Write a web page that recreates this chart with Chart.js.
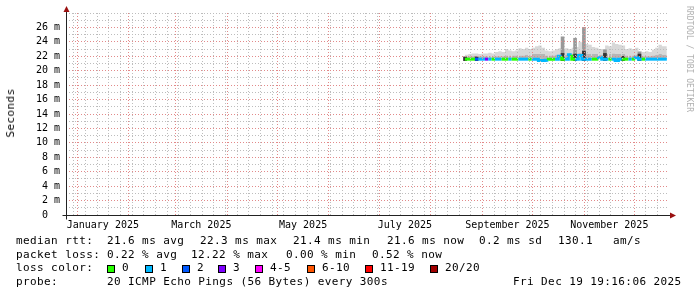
<!DOCTYPE html>
<html>
<head>
<meta charset="utf-8">
<script src="https://cdn.jsdelivr.net/npm/chart.js@4.4.1/dist/chart.umd.min.js"></script>
<style>
  html, body { margin: 0; padding: 0; background: #fff; }
  #wrap { position: relative; width: 697px; height: 297px; overflow: hidden; }
  #wrap canvas { position: absolute; left: 0; top: 0; }
  .t { position: absolute; font-family: "DejaVu Sans Mono", monospace; font-size: 11px;
       letter-spacing: 0.4px; color: #000; white-space: pre; line-height: 12px; }
  .box { position: absolute; top: 265px; width: 6px; height: 6px; border: 1px solid #000; }
</style>
</head>
<body>
<div id="wrap">
  <canvas id="chart" width="697" height="297"></canvas>

  <div class="t" style="left:11px;top:113px;transform:translate(-50%,-50%) rotate(-90deg);">Seconds</div>
  <div class="t" style="left:689px;top:59px;font-size:8px;letter-spacing:0;color:#b0b0b0;transform:translate(-50%,-50%) rotate(90deg);">RRDTOOL / TOBI OETIKER</div>

  <!-- legend rows -->
  <div class="t" style="left:16px;top:235px;">median rtt:</div>
  <div class="t" style="left:107px;top:235px;">21.6 ms avg</div>
  <div class="t" style="left:200px;top:235px;">22.3 ms max</div>
  <div class="t" style="left:293px;top:235px;">21.4 ms min</div>
  <div class="t" style="left:387px;top:235px;">21.6 ms now</div>
  <div class="t" style="left:479px;top:235px;">0.2 ms sd</div>
  <div class="t" style="left:558px;top:235px;">130.1</div>
  <div class="t" style="left:613px;top:235px;">am/s</div>

  <div class="t" style="left:16px;top:249px;">packet loss:</div>
  <div class="t" style="left:107px;top:249px;">0.22 % avg</div>
  <div class="t" style="left:191px;top:249px;">12.22 % max</div>
  <div class="t" style="left:286px;top:249px;">0.00 % min</div>
  <div class="t" style="left:372px;top:249px;">0.52 % now</div>

  <div class="t" style="left:16px;top:262px;">loss color:</div>
  <div id="lossLegend"></div>

  <div class="t" style="left:16px;top:276px;">probe:</div>
  <div class="t" style="left:107px;top:276px;">20 ICMP Echo Pings (56 Bytes) every 300s</div>
  <div class="t" style="left:513px;top:276px;">Fri Dec 19 19:16:06 2025</div>
</div>

<script>
// x values are days since 1 Jan 2025 (2-day bins, stepped like rrdtool)
const days = [232.5, 234.5, 236.5, 238.5, 240.5, 242.5, 244.5, 246.5, 248.5, 250.5,
              252.5, 254.5, 256.5, 258.5, 260.5, 262.5, 264.5, 266.5, 268.5, 270.5,
              272.5, 274.5, 276.5, 278.5, 280.5, 282.5, 284.5, 286.5, 288.5, 290.5,
              292.5, 294.5, 296.5, 298.5, 300.5, 302.5, 304.5, 306.5, 308.5, 310.5,
              312.5, 314.5, 316.5, 318.5, 320.5, 322.5, 324.5, 326.5, 328.5, 330.5,
              332.5, 334.5, 336.5, 338.5, 340.5, 342.5, 344.5, 346.5, 348.5, 350.5,
              352.5, 353.5];

// median rtt in ms
const median = [21.6, 21.6, 21.6, 21.6, 21.6, 21.6, 21.6, 21.6, 21.6, 21.6,
                21.6, 21.6, 21.6, 21.6, 21.6, 21.6, 21.6, 21.6, 21.6, 21.6,
                21.6, 21.6, 21.6, 21.4, 21.4, 21.45, 21.6, 21.6, 21.6, 22.0,
                21.6, 21.6, 22.2, 21.6, 21.6, 22.1, 21.6, 21.6, 21.6, 21.6,
                21.6, 21.8, 21.6, 21.6, 21.6, 21.6, 21.4, 21.6, 21.6, 21.6,
                21.6, 21.6, 21.8, 21.6, 21.6, 21.6, 21.6, 21.6, 21.6, 21.6,
                21.6, 21.6];

// loss class per bin: 0 -> "0", 1 -> "1", 2 -> "2", 3 -> "3" ...
const loss = [0, 0, 0, 2, 1, 1, 3, 1, 0, 1,
              1, 0, 0, 1, 0, 0, 1, 1, 1, 0,
              1, 1, 1, 1, 1, 0, 0, 1, 1, 0,
              1, 1, 0, 1, 1, 1, 1, 1, 0, 0,
              1, 1, 1, 0, 1, 1, 1, 0, 0, 1,
              0, 1, 1, 0, 1, 1, 1, 1, 1, 1,
              1, 1];

// smoke: darker band and light upper band (ms)
const smokeMid = [21.9, 21.9, 22.0, 22.0, 22.0, 22.0, 22.0, 22.0, 22.0, 22.0,
                  22.0, 22.0, 22.0, 22.1, 22.1, 22.1, 22.1, 22.1, 22.1, 22.2,
                  22.1, 22.3, 22.3, 22.3, 22.3, 22.1, 22.1, 22.1, 22.2, 22.2,
                  22.2, 22.2, 22.4, 22.4, 22.4, 22.5, 22.4, 22.4, 22.3, 22.3,
                  22.3, 22.2, 22.2, 22.3, 22.3, 22.4, 22.3, 22.3, 22.3, 22.1,
                  22.1, 22.1, 22.2, 22.0, 22.0, 22.0, 22.0, 22.1, 22.2, 22.3,
                  22.2, 22.2];
const smokeHi = [22.0, 22.2, 22.3, 22.4, 22.4, 22.3, 22.4, 22.4, 22.5, 22.4,
                 22.6, 22.7, 22.6, 23.0, 22.8, 22.7, 22.8, 23.1, 23.0, 23.2,
                 23.0, 23.2, 23.4, 23.5, 23.2, 22.8, 22.7, 22.8, 23.0, 23.1,
                 23.0, 23.1, 23.0, 23.2, 23.3, 24.0, 23.8, 23.7, 23.6, 23.3,
                 23.2, 23.0, 23.0, 23.5, 23.4, 23.9, 23.7, 23.6, 23.5, 23.0,
                 23.1, 23.0, 23.2, 22.7, 22.6, 22.7, 22.6, 22.9, 23.2, 23.6,
                 23.4, 23.4];

// single-day smoke spikes
const spikeDays = [232.6, 239.5, 291.0, 298.5, 303.8, 316.4, 327.2, 337.1];
const spikeTop  = [21.9, 21.9, 24.7, 24.5, 26.0, 22.9, 22.0, 22.6];
const spikeCore = [21.9, 21.9, 22.4, 22.3, 22.7, 22.4, 22.0, 22.3];
const spikeBase = 21.4;

const lossColors = ['#26ff00', '#00b8ff', '#0059ff', '#7e00ff', '#ff00ff', '#ff5500', '#ff0000', '#a10000'];
const lossNames  = ['0', '1', '2', '3', '4-5', '6-10', '11-19', '20/20'];
const boxX = [107, 145, 182, 218, 255, 307, 365, 430];

// axis layout (days since 1 Jan 2025)
const monthStarts = [0, 31, 59, 90, 120, 151, 181, 212, 243, 273, 304, 334];
const monthLabels = ['January 2025', 'March 2025', 'May 2025', 'July 2025', 'September 2025', 'November 2025'];
const labelDays = [15.5, 74.5, 135.5, 196.5, 258, 319];
const X_MIN = -6.6, X_MAX = 354.8;
const Y_MAX = 28;

const MAJOR = '#e28a8a';
const MINOR = '#bdbdbd';

// loss colour legend
const lossLegend = document.getElementById('lossLegend');
lossNames.forEach((name, i) => {
  const b = document.createElement('div');
  b.className = 'box';
  b.style.left = boxX[i] + 'px';
  b.style.background = lossColors[i];
  lossLegend.appendChild(b);
  const t = document.createElement('div');
  t.className = 't';
  t.style.left = (boxX[i] + 15) + 'px';
  t.style.top = '262px';
  t.innerText = name;
  lossLegend.appendChild(t);
});

function xTicks() {
  const out = [];
  monthStarts.forEach(v => out.push({ value: v, kind: 'major' }));
  for (let w = -2; w < X_MAX; w += 7) {
    if (!monthStarts.includes(w)) out.push({ value: w, kind: 'minor' });
  }
  labelDays.forEach((v, i) => out.push({ value: v, kind: 'label', text: monthLabels[i] }));
  return out.sort((a, b) => a.value - b.value);
}

function yTicks() {
  const out = [];
  for (let v = 0; v <= Y_MAX; v++) out.push({ value: v });
  return out;
}

const pts = arr => days.map((d, i) => ({ x: d, y: arr[i] }));

const axisArrows = {
  id: 'axisArrows',
  afterDraw(chart) {
    const { ctx, chartArea: a } = chart;
    const x0 = Math.round(a.left) + 0.5;
    const y0 = Math.round(a.bottom) + 0.5;
    ctx.save();
    ctx.strokeStyle = '#222';
    ctx.lineWidth = 1;
    ctx.beginPath();
    ctx.moveTo(x0, a.top - 3);
    ctx.lineTo(x0, y0 + 4);
    ctx.moveTo(x0 - 4, y0);
    ctx.lineTo(a.right + 1, y0);
    ctx.stroke();
    ctx.fillStyle = '#9a1010';
    ctx.beginPath();
    ctx.moveTo(x0, a.top - 7);
    ctx.lineTo(x0 - 3, a.top - 1);
    ctx.lineTo(x0 + 3, a.top - 1);
    ctx.closePath();
    ctx.fill();
    ctx.beginPath();
    ctx.moveTo(a.right + 7, y0);
    ctx.lineTo(a.right + 1, y0 - 3);
    ctx.lineTo(a.right + 1, y0 + 3);
    ctx.closePath();
    ctx.fill();
    ctx.restore();
  }
};

new Chart(document.getElementById('chart'), {
  type: 'line',
  data: {
    datasets: [
      {
        label: 'median', data: pts(median), stepped: 'after',
        borderWidth: 3, pointRadius: 0, fill: false, order: 0,
        borderColor: lossColors[1],
        segment: { borderColor: c => lossColors[loss[c.p0DataIndex]] }
      },
      {
        type: 'bar', label: 'spikeCore', order: 1, grouped: false, barThickness: 3,
        data: spikeDays.map((d, i) => ({ x: d, y: [spikeBase, spikeCore[i]] })),
        backgroundColor: '#333333'
      },
      {
        type: 'bar', label: 'spike', order: 2, grouped: false, barThickness: 3,
        data: spikeDays.map((d, i) => ({ x: d, y: [spikeBase, spikeTop[i]] })),
        backgroundColor: '#999999'
      },
      {
        label: 'smokeMid', data: pts(smokeMid), stepped: 'after', order: 3,
        borderWidth: 0, pointRadius: 0, fill: 0, backgroundColor: '#b6b6b6'
      },
      {
        label: 'smokeHi', data: pts(smokeHi), stepped: 'after', order: 4,
        borderWidth: 0, pointRadius: 0, fill: 3, backgroundColor: '#d8d8d8'
      }
    ]
  },
  options: {
    responsive: false,
    animation: false,
    events: [],
    layout: { padding: { left: 0, top: 13, right: 28, bottom: 62 } },
    plugins: { legend: { display: false }, tooltip: { enabled: false } },
    scales: {
      x: {
        type: 'linear', min: X_MIN, max: X_MAX, offset: false,
        afterBuildTicks: s => { s.ticks = xTicks(); },
        afterFit: s => { s.height = 20; },
        border: { display: false, dash: [1, 2] },
        grid: {
          offset: false, z: 1, drawTicks: false,
          color: c => c.tick && c.tick.kind === 'major' ? MAJOR : (c.tick && c.tick.kind === 'minor' ? MINOR : 'rgba(0,0,0,0)')
        },
        ticks: {
          autoSkip: false, maxRotation: 0, minRotation: 0, padding: 4,
          color: '#000', font: { family: 'DejaVu Sans Mono', size: 10 },
          callback: (v, i, ticks) => ticks[i].text || ''
        }
      },
      y: {
        type: 'linear', min: 0, max: Y_MAX,
        afterBuildTicks: s => { s.ticks = yTicks(); },
        afterFit: s => { s.width = 66; },
        border: { display: false, dash: [1, 2] },
        grid: {
          z: 1, drawTicks: false,
          color: c => {
            const v = c.tick ? c.tick.value : 0;
            if (v === 0) return 'rgba(0,0,0,0)';
            if (v === Y_MAX) return MINOR;
            return v % 2 === 0 ? MAJOR : MINOR;
          }
        },
        ticks: {
          autoSkip: false, padding: 6,
          color: '#000', font: { family: 'DejaVu Sans Mono', size: 10 },
          callback: v => v === 0 ? '0  ' : (v % 2 === 0 && v < Y_MAX ? v + ' m' : '')
        }
      }
    }
  },
  plugins: [axisArrows]
});
</script>
</body>
</html>
